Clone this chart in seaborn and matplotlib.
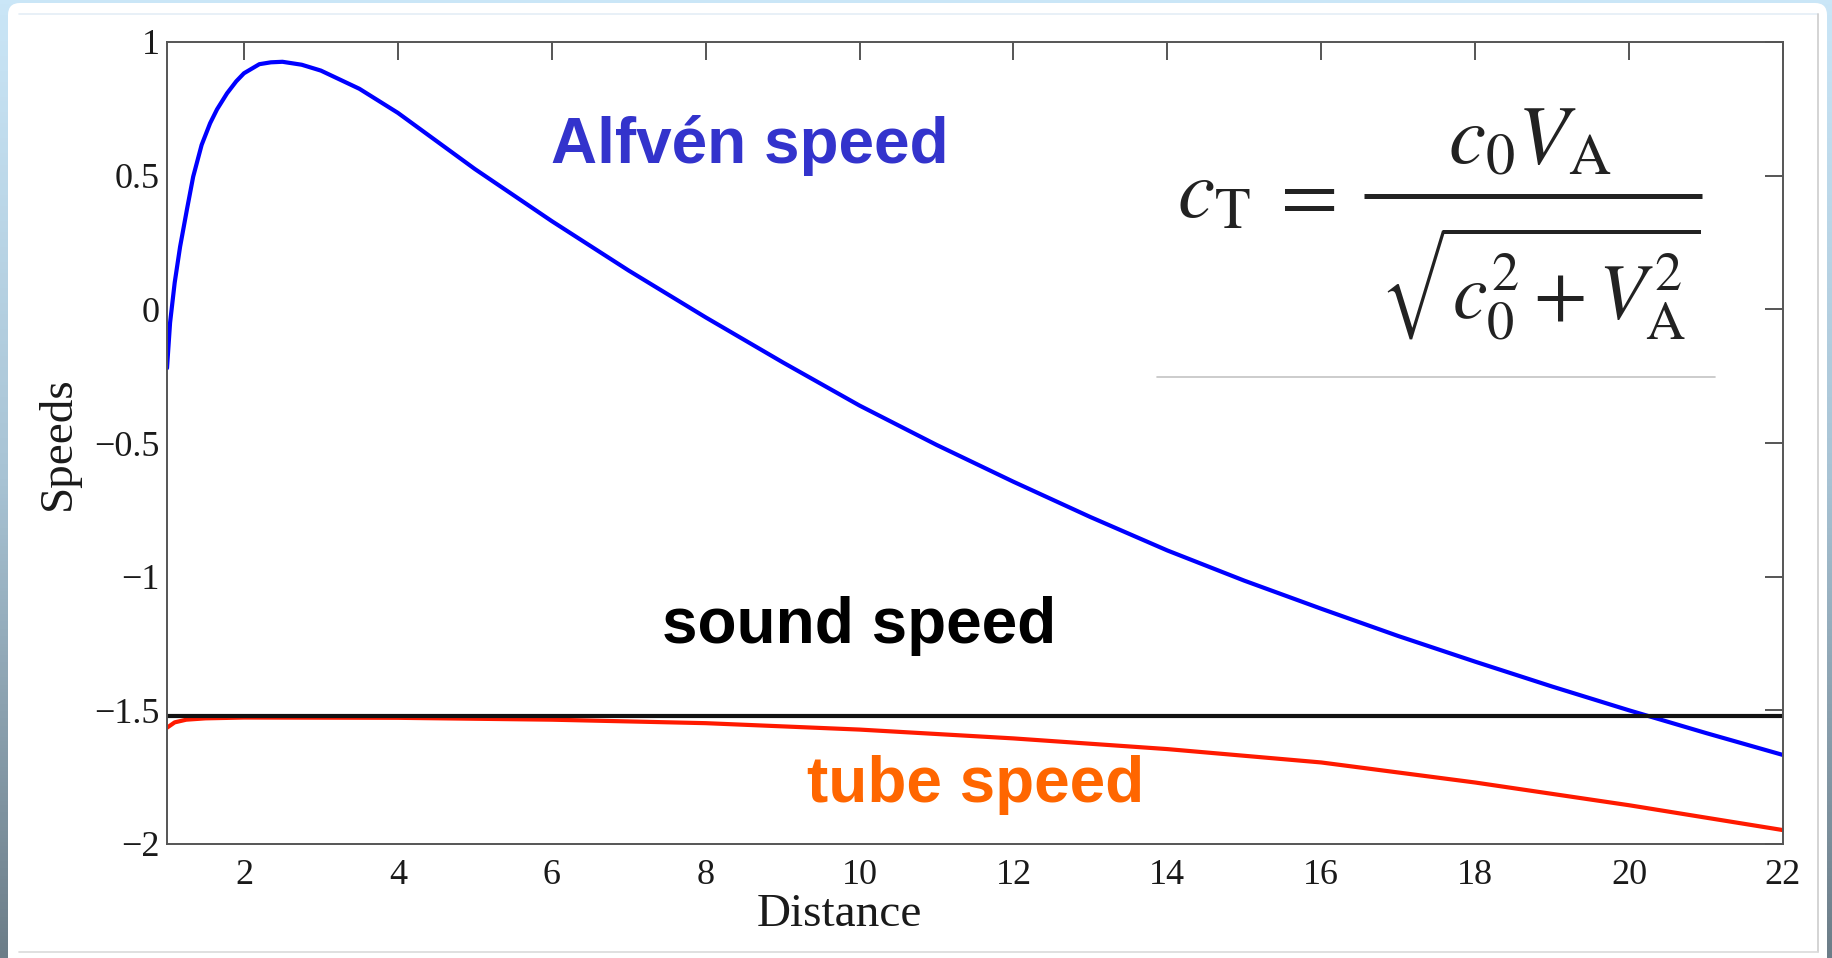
import numpy as np
import pandas as pd
import matplotlib
matplotlib.use("Agg")
import matplotlib.pyplot as plt
from matplotlib.patches import FancyBboxPatch
from matplotlib.colors import LinearSegmentedColormap
import seaborn as sns

# ---------------- data ----------------
alfven_x = [1.0, 1.04, 1.10, 1.17, 1.26, 1.34, 1.45, 1.56, 1.65, 1.78, 1.9, 2.0,
            2.2, 2.35, 2.5, 2.75, 3.0, 3.5, 4.0, 5.0, 6.0, 7.0, 8.0, 9.0,
            10.0, 11.0, 12.0, 13.0, 14.0, 15.0, 16.0, 17.0, 18.0, 19.0,
            20.0, 21.0, 22.0]
alfven_y = [-0.22, -0.05, 0.10, 0.234, 0.375, 0.496, 0.615, 0.696, 0.748, 0.808,
            0.853, 0.883, 0.917, 0.924, 0.926, 0.915, 0.893, 0.825, 0.735,
            0.525, 0.33, 0.145, -0.03, -0.198, -0.36, -0.507, -0.645, -0.777,
            -0.902, -1.015, -1.12, -1.222, -1.318, -1.411, -1.50, -1.585,
            -1.667]

tube_x = [1.0, 1.1, 1.25, 1.5, 2.0, 4.0, 6.0, 8.0, 10.0, 12.0, 14.0, 16.0,
          18.0, 20.0, 22.0]
tube_y = [-1.565, -1.545, -1.535, -1.530, -1.527, -1.528, -1.535, -1.548,
          -1.572, -1.605, -1.645, -1.695, -1.770, -1.855, -1.948]

sound_x = [1.0, 22.0]
sound_y = [-1.52, -1.52]

x_ticks = [2, 4, 6, 8, 10, 12, 14, 16, 18, 20, 22]
x_tick_labels = ["2", "4", "6", "8", "10", "12", "14", "16", "18", "20", "22"]
y_ticks = [-2, -1.5, -1, -0.5, 0, 0.5, 1]
y_tick_labels = ["\u22122", "\u22121.5", "\u22121", "\u22120.5", "0", "0.5", "1"]

x_label = "Distance"
y_label = "Speeds"
label_alfven = "Alfvén speed"
label_sound = "sound speed"
label_tube = "tube speed"
formula_lhs = r"$c_{\mathrm{T}}$"
formula_eq = r"$=$"
formula_num = r"$c_0 V_{\mathrm{A}}$"
formula_den = r"$\sqrt{c_0^2 + V_{\mathrm{A}}^2}$"

# ---------------- figure ----------------
W, H = 1832, 958
sns.set_theme(style="white")
plt.rcParams['font.family'] = ['Liberation Serif', 'DejaVu Serif']
plt.rcParams['mathtext.fontset'] = 'stix'

fig = plt.figure(figsize=(W / 100, H / 100), dpi=100)

# slide-like background
bg = fig.add_axes([0, 0, 1, 1], zorder=-10)
grad = np.linspace(0, 1, 256).reshape(-1, 1)
cmap = LinearSegmentedColormap.from_list('bg', ['#cae6f7', '#a8c3d4', '#6c7d88'])
bg.imshow(grad, aspect='auto', cmap=cmap, extent=[0, W, H, 0])
bg.set_xlim(0, W)
bg.set_ylim(H, 0)
bg.axis('off')
bg.add_patch(FancyBboxPatch((8, 3), 1819, 990,
                            boxstyle='round,pad=0,rounding_size=12',
                            fc='white', ec='none'))
bg.plot([19, 1818], [14, 14], color='#e4eef6', lw=1.2)
bg.plot([1818, 1818], [14, 952], color='#cdcdcd', lw=1.2)
bg.plot([19, 1818], [952, 952], color='#dadada', lw=1.2)
bg.plot([1157, 1715], [377, 377], color='#c4c4c4', lw=1.2)
# fraction bar of the formula
bg.plot([1364, 1702], [196, 196], color='#222222', lw=3.6,
        solid_capstyle='butt', zorder=5)

# main axes
ax = fig.add_axes([167 / W, 1 - 844 / H, 1616 / W, 802 / H])
ax.set_facecolor('none')

df_a = pd.DataFrame({"Distance": alfven_x, "Speeds": alfven_y})
df_t = pd.DataFrame({"Distance": tube_x, "Speeds": tube_y})
df_s = pd.DataFrame({"Distance": sound_x, "Speeds": sound_y})
sns.lineplot(data=df_a, x="Distance", y="Speeds", color='#0000ff', lw=3.0, ax=ax)
sns.lineplot(data=df_t, x="Distance", y="Speeds", color='#ff1a00', lw=3.0, ax=ax)
sns.lineplot(data=df_s, x="Distance", y="Speeds", color='#111111', lw=3.0, ax=ax)

ax.set_xlim(1, 22)
ax.set_ylim(-2, 1)
ax.set_xticks(x_ticks)
ax.set_xticklabels(x_tick_labels)
ax.set_yticks(y_ticks)
ax.set_yticklabels(y_tick_labels)
ax.tick_params(axis='both', direction='in', length=13, width=1.4,
               top=True, right=True, labelsize=26, colors='#555555',
               labelcolor='#1a1a1a')
ax.tick_params(axis='x', pad=11)
ax.tick_params(axis='y', pad=5)
for sp in ax.spines.values():
    sp.set_color('#555555')
    sp.set_linewidth(1.4)
    sp.set_visible(True)

ax.set_xlabel(x_label, fontsize=34, color='#1a1a1a')
ax.set_ylabel(y_label, fontsize=34, color='#1a1a1a')
ax.xaxis.set_label_coords((839 - 167) / 1616, (844 - 893) / 802)
ax.yaxis.set_label_coords((80 - 167) / 1616, 0.5)

# annotations
def ftext(x, y, s, **kw):
    fig.text(x / W, 1 - y / H, s, **kw)

sans = ['Liberation Sans', 'DejaVu Sans']
ftext(551, 163, label_alfven, family=sans, weight='bold', fontsize=46,
      color='#3333cc', ha='left', va='baseline')
ftext(662, 643, label_sound, family=sans, weight='bold', fontsize=46,
      color='black', ha='left', va='baseline')
ftext(807, 802, label_tube, family=sans, weight='bold', fontsize=46,
      color='#ff6600', ha='left', va='baseline')

fcol = '#222222'
ftext(1177, 218, formula_lhs, fontsize=60, color=fcol, ha='left', va='baseline')
ftext(1302, 199, formula_eq, fontsize=60, color=fcol, ha='center', va='center')
ftext(1530, 163, formula_num, fontsize=60, color=fcol, ha='center', va='baseline')
ftext(1380, 320, formula_den, fontsize=56, color=fcol, ha='left', va='baseline')

fig.savefig('out.png', dpi=100)
